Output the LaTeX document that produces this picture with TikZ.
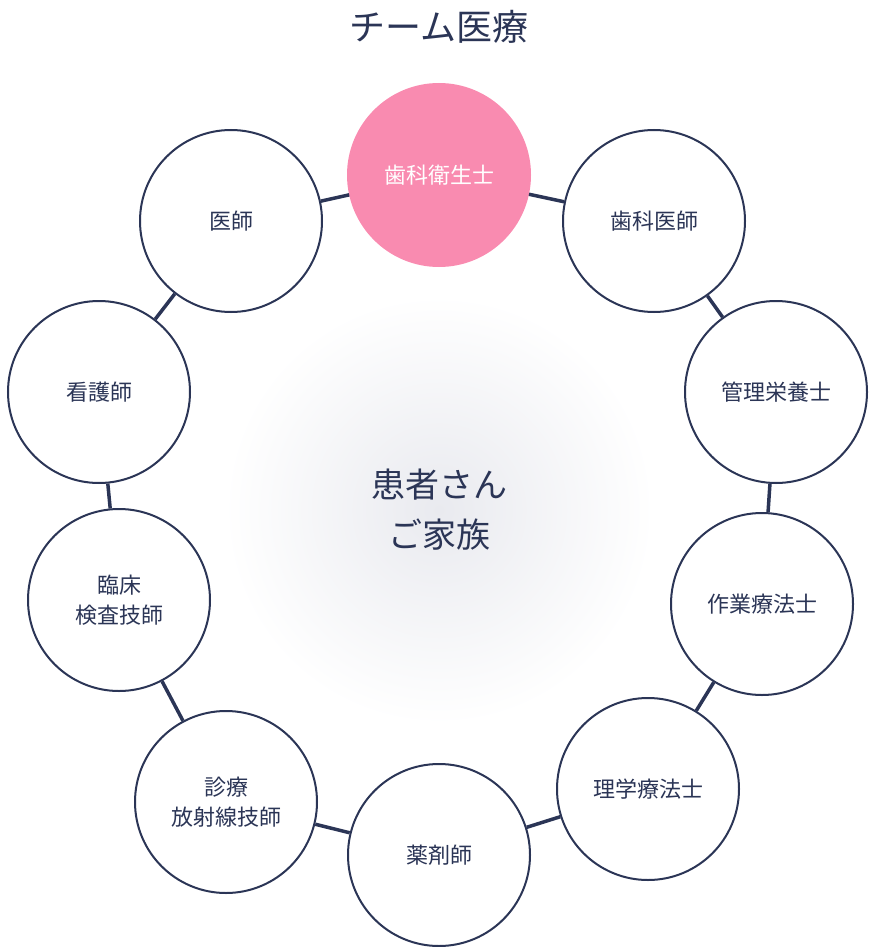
\documentclass[tikz,border=0pt]{standalone}
\usepackage{fontspec}
\setmainfont{Noto Sans CJK JP}
\definecolor{navy}{HTML}{2B3556}
\definecolor{sakura}{HTML}{F98BB0}
\definecolor{haze}{HTML}{E9EAEF}
\tikzset{every picture/.style={line width=0.75pt}}
\tikzset{
  staff/.style={circle, draw=navy, line width=2pt, fill=white, minimum size=182pt, inner sep=0pt, align=center, text=navy, font=\fontsize{22}{30}\selectfont},
  link/.style={draw=navy, line width=3.5pt}
}
\begin{document}
\begin{tikzpicture}[x=1pt,y=1pt,yscale=-1,xscale=1]
\useasboundingbox (0,0) rectangle (876,947);

% glow behind the centre
\shade [inner color=haze, outer color=white] (439,510) circle (215);

% Title
\node (title) at (439,27) [text=navy, font=\fontsize{36}{40}\selectfont] {チーム医療};
% Centre
\node (centre) at (439,510) [align=center, text=navy, font=\fontsize{34}{50}\selectfont] {患者さん\\ご家族};

% Staff circles
\node (hygienist) at (439,175) [staff, fill=sakura, draw=sakura, text=white] {歯科衛生士};
\node (dentist) at (654,221) [staff] {歯科医師};
\node (dietitian) at (776,392) [staff] {管理栄養士};
\node (ot) at (762,604) [staff] {作業療法士};
\node (pt) at (648,789) [staff] {理学療法士};
\node (pharma) at (439,855) [staff] {薬剤師};
\node (radio) at (226,802) [staff] {診療\\放射線技師};
\node (lab) at (119,600) [staff] {臨床\\検査技師};
\node (nurse) at (99,392) [staff] {看護師};
\node (doctor) at (231,221) [staff] {医師};

% Links
\foreach \a/\b in {hygienist/dentist, dentist/dietitian, dietitian/ot, ot/pt, pt/pharma, pharma/radio, radio/lab, lab/nurse, nurse/doctor, doctor/hygienist}
  \draw [link] (\a) -- (\b);

\end{tikzpicture}
\end{document}
